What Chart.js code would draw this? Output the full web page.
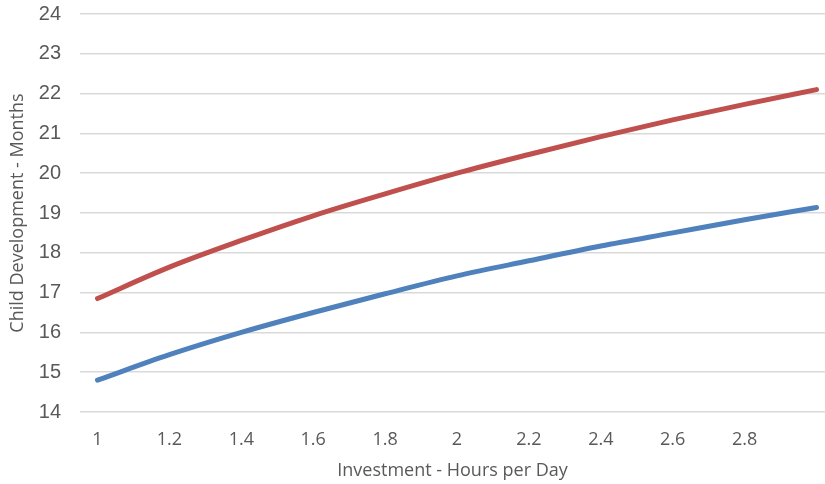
<!DOCTYPE html>
<html>
<head>
<meta charset="utf-8">
<script src="https://cdn.jsdelivr.net/npm/chart.js@4/dist/chart.umd.min.js"></script>
<style>
  html, body { margin: 0; padding: 0; background: #ffffff; }
  #wrap { width: 825px; height: 484px; position: relative; }
</style>
</head>
<body>
<div id="wrap"><canvas id="chart"></canvas></div>
<script>
// Hours of investment per day (x positions of the readings)
const hoursPerDay = [1, 1.2, 1.4, 1.6, 1.8, 2, 2.2, 2.4, 2.6, 2.8, 3];
// Upper curve (red)
const upperMonths = [16.85, 17.64, 18.31, 18.93, 19.48, 20.0, 20.47, 20.92, 21.34, 21.73, 22.1];
// Lower curve (blue)
const lowerMonths = [14.8, 15.44, 16.0, 16.5, 16.97, 17.42, 17.8, 18.17, 18.5, 18.83, 19.14];
// Labelled ticks on the horizontal axis
const xTickValues = [1, 1.2, 1.4, 1.6, 1.8, 2, 2.2, 2.4, 2.6, 2.8];
// Vertical axis range
const yMin = 14, yMax = 24, yStep = 1;

const toPoints = (ys) => hoursPerDay.map((x, i) => ({ x: x, y: ys[i] }));

const textGray = '#595959';

new Chart(document.getElementById('chart'), {
  type: 'line',
  data: {
    datasets: [
      {
        label: 'Upper',
        data: toPoints(upperMonths),
        borderColor: '#C0504D',
        borderWidth: 5,
        borderCapStyle: 'round',
        borderJoinStyle: 'round',
        pointRadius: 0,
        cubicInterpolationMode: 'monotone',
        fill: false
      },
      {
        label: 'Lower',
        data: toPoints(lowerMonths),
        borderColor: '#4F81BD',
        borderWidth: 5,
        borderCapStyle: 'round',
        borderJoinStyle: 'round',
        pointRadius: 0,
        cubicInterpolationMode: 'monotone',
        fill: false
      }
    ]
  },
  options: {
    responsive: true,
    maintainAspectRatio: false,
    animation: false,
    layout: { padding: { top: 14, right: 0, bottom: 0, left: 0 } },
    plugins: {
      legend: { display: false },
      tooltip: { enabled: false }
    },
    scales: {
      x: {
        type: 'linear',
        min: 0.9513,
        max: 3.0236,
        afterBuildTicks: (scale) => {
          scale.ticks = xTickValues.map(v => ({ value: v }));
        },
        afterFit: (scale) => {
          scale.height = 72;
          scale.paddingLeft = 0;
          scale.paddingRight = 0;
        },
        grid: { display: false, drawTicks: false },
        border: { display: false },
        ticks: {
          color: textGray,
          font: { family: 'Open Sans', size: 18 },
          padding: 17,
          maxRotation: 0,
          autoSkip: false,
          callback: (v) => String(v)
        },
        title: {
          display: true,
          text: 'Investment - Hours per Day',
          color: textGray,
          font: { family: 'Open Sans', size: 18 },
          padding: { top: 0, bottom: 2 }
        }
      },
      y: {
        min: yMin,
        max: yMax,
        afterFit: (scale) => {
          scale.width = 80;
          scale.paddingTop = 0;
          scale.paddingBottom = 0;
        },
        grid: { color: '#d9d9d9', lineWidth: 1.5, drawTicks: false },
        border: { display: false },
        ticks: {
          stepSize: yStep,
          color: textGray,
          font: { family: 'Liberation Sans', size: 20 },
          padding: 19
        },
        title: {
          display: true,
          text: 'Child Development - Months',
          color: textGray,
          font: { family: 'Open Sans', size: 18 },
          padding: { top: 7, bottom: 0 }
        }
      }
    }
  }
});
</script>
</body>
</html>
